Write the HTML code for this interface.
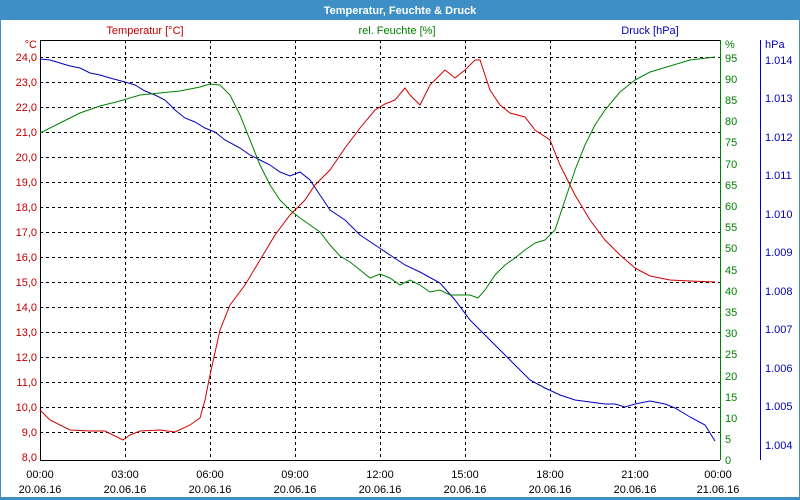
<!DOCTYPE html>
<html><head><meta charset="utf-8"><style>
body{margin:0;background:#fff}
svg{display:block;font-family:"Liberation Sans",sans-serif;font-size:11px}
</style></head><body>
<svg width="800" height="500" viewBox="0 0 800 500">
<rect x="0" y="0" width="800" height="500" fill="#fff"/>
<rect x="0" y="0" width="800" height="20" fill="#3d8fc6"/>
<rect x="0.5" y="0.5" width="799" height="499" fill="none" stroke="#3d8fc6"/>
<rect x="0" y="497" width="800" height="3" fill="#3d8fc6"/>
<text x="400" y="14" text-anchor="middle" fill="#fff" font-weight="bold">Temperatur, Feuchte &amp; Druck</text>
<text x="145" y="34" text-anchor="middle" fill="#c00000">Temperatur [°C]</text>
<text x="397" y="34" text-anchor="middle" fill="#008000">rel. Feuchte [%]</text>
<text x="650" y="34" text-anchor="middle" fill="#0000c0">Druck [hPa]</text>
<text x="37" y="48" text-anchor="end" fill="#c00000">°C</text>
<text x="725" y="48" fill="#008000">%</text>
<text x="765" y="48" fill="#0000c0">hPa</text>
<g stroke="#000" stroke-dasharray="3,3" stroke-width="1">
<path d="M40 57.5H720M40 82.5H720M40 107.5H720M40 132.5H720M40 157.5H720M40 182.5H720M40 207.5H720M40 232.5H720M40 257.5H720M40 282.5H720M40 307.5H720M40 332.5H720M40 357.5H720M40 382.5H720M40 407.5H720M40 432.5H720"/>
<path d="M125.5 40V460M210.5 40V460M295.5 40V460M380.5 40V460M465.5 40V460M550.5 40V460M635.5 40V460"/>
</g>
<path d="M40.5 40V460.5H720" fill="none" stroke="#000"/>
<path d="M40 40.5H720" stroke="#000"/>
<path d="M720.5 40V460" stroke="#008000"/>
<path d="M760.5 40V460" stroke="#0000c0"/>
<g fill="#c00000" text-anchor="end">
<text x="37" y="61">24,0</text><text x="37" y="86">23,0</text><text x="37" y="111">22,0</text><text x="37" y="136">21,0</text><text x="37" y="161">20,0</text><text x="37" y="186">19,0</text><text x="37" y="211">18,0</text><text x="37" y="236">17,0</text><text x="37" y="261">16,0</text><text x="37" y="286">15,0</text><text x="37" y="311">14,0</text><text x="37" y="336">13,0</text><text x="37" y="361">12,0</text><text x="37" y="386">11,0</text><text x="37" y="411">10,0</text><text x="37" y="436">9,0</text><text x="37" y="461">8,0</text>
</g>
<g fill="#008000">
<text x="725" y="464">0</text><text x="725" y="443">5</text><text x="725" y="422">10</text><text x="725" y="401">15</text><text x="725" y="380">20</text><text x="725" y="358">25</text><text x="725" y="337">30</text><text x="725" y="316">35</text><text x="725" y="295">40</text><text x="725" y="274">45</text><text x="725" y="252">50</text><text x="725" y="231">55</text><text x="725" y="210">60</text><text x="725" y="189">65</text><text x="725" y="168">70</text><text x="725" y="146">75</text><text x="725" y="125">80</text><text x="725" y="104">85</text><text x="725" y="83">90</text><text x="725" y="62">95</text>
</g>
<g fill="#0000c0">
<text x="765" y="449">1.004</text><text x="765" y="410">1.005</text><text x="765" y="372">1.006</text><text x="765" y="333">1.007</text><text x="765" y="295">1.008</text><text x="765" y="256">1.009</text><text x="765" y="218">1.010</text><text x="765" y="179">1.011</text><text x="765" y="141">1.012</text><text x="765" y="102">1.013</text><text x="765" y="64">1.014</text>
</g>
<g fill="#000" text-anchor="middle">
<text x="40" y="478">00:00</text><text x="125" y="478">03:00</text><text x="210" y="478">06:00</text><text x="295" y="478">09:00</text><text x="380" y="478">12:00</text><text x="465" y="478">15:00</text><text x="550" y="478">18:00</text><text x="635" y="478">21:00</text><text x="718" y="478">00:00</text>
<text x="40" y="493">20.06.16</text><text x="125" y="493">20.06.16</text><text x="210" y="493">20.06.16</text><text x="295" y="493">20.06.16</text><text x="380" y="493">20.06.16</text><text x="465" y="493">20.06.16</text><text x="550" y="493">20.06.16</text><text x="635" y="493">20.06.16</text><text x="718" y="493">21.06.16</text>
</g>
<polyline fill="none" stroke="#0000c0" points="40,59 50,60 60,63 70,66 80,68 90,73 100,75 110,78 125,82 135,85 145,91 155,95 165,100 175,110 185,118 195,122 205,128 215,132 225,140 240,148 250,155 260,160 270,165 280,172 290,176 300,172 310,180 320,195 330,210 345,220 360,235 375,245 390,255 405,265 420,272 440,283 455,300 470,320 485,335 500,350 515,365 530,380 545,388 560,395 575,400 590,402 605,404 615,404 625,407 635,404 650,401 665,404 675,408 690,417 705,425 715,441"/>
<polyline fill="none" stroke="#008000" points="40,133 60,123 80,113 100,106 120,101 140,95 160,93 180,91 200,87 210,84 220,85 230,95 240,115 250,140 260,165 270,185 280,200 290,210 300,218 310,225 320,232 330,245 340,256 350,262 360,270 370,278 380,274 390,278 400,285 410,280 420,285 430,292 440,290 450,295 460,295 470,295 478,298 485,290 495,275 505,265 515,258 525,250 535,243 545,240 555,230 565,200 575,170 585,145 595,125 605,110 620,92 635,80 650,72 670,66 690,60 715,57"/>
<polyline fill="none" stroke="#d00000" points="40,410 50,420 70,430 90,431 105,431 123,440 130,435 140,431 160,430 175,432 190,425 200,418 205,400 210,375 220,330 230,305 245,285 260,260 275,235 290,215 305,200 315,185 330,170 345,148 360,128 375,110 385,104 395,100 405,88 410,95 420,105 430,85 440,75 445,70 455,78 465,70 475,60 480,60 490,90 500,105 510,113 525,117 535,130 550,140 560,165 575,195 590,220 605,240 620,255 635,268 650,276 670,280 690,281 715,282"/>
</svg>
</body></html>
